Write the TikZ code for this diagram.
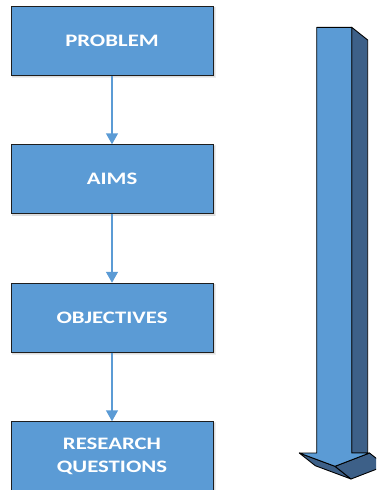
\documentclass[tikz,border=0pt]{standalone}
\usepackage{fontspec}
\newfontfamily\boxfont[FakeStretch=1.3]{Carlito}
\usetikzlibrary{arrows.meta}

\definecolor{boxblue}{HTML}{5B9BD5}
\definecolor{deepblue}{HTML}{3D6088}
\definecolor{edgegray}{HTML}{1E1E1E}

\tikzset{
  stepbox/.style={draw=edgegray, line width=0.9pt, fill=boxblue, text=white,
    minimum width=202pt, minimum height=69pt, inner sep=0pt, align=center,
    font=\boxfont\bfseries\fontsize{17.5}{23.3}\selectfont},
  flow/.style={draw=boxblue, line width=1.5pt,
    -{Triangle[width=12pt,length=11pt]}},
  face/.style={draw=black, line width=0.9pt, line join=round},
  haze/.style={fill=black, opacity=0.07}
}

\begin{document}
\begin{tikzpicture}[x=1pt,y=-1pt]
\useasboundingbox (0,0) rectangle (376,490);
\clip (0,0) rectangle (376,490);

% soft shadows under the step boxes
\foreach \yc in {40.5,179.2,317.7,456.2}{
  \fill[haze] (12,\yc-33.5) rectangle (215,\yc+36.5);
  \fill[haze] (11.5,\yc-34) rectangle (215.5,\yc+37);
}

% the four steps
\node[stepbox] (problem)   at (112,40.8)  {PROBLEM};
\node[stepbox] (aims)      at (112,179.2) {AIMS};
\node[stepbox] (objective) at (112,317.7) {OBJECTIVES};
\node[stepbox] (research)  at (112,456.2) {RESEARCH\\[-0.4pt]QUESTIONS};

% connectors between steps
\draw[flow] (problem.south)   -- (aims.north);
\draw[flow] (aims.south)      -- (objective.north);
\draw[flow] (objective.south) -- (research.north);

% large extruded arrow pointing down
\coordinate (tl) at (316.7,27.3);
\coordinate (tr) at (351.7,27.3);
\coordinate (br) at (351.7,453);
\coordinate (bl) at (316.7,453);
\coordinate (sb) at (367.7,40);
\coordinate (sc) at (367.7,453);
\coordinate (wa) at (299.3,453);
\coordinate (wb) at (369.5,453);
\coordinate (tip) at (335,466.3);
\coordinate (wa2) at (315.3,465.7);
\coordinate (wb2) at (385.5,465.7);
\coordinate (tip2) at (351,479);

% extruded faces
\filldraw[face, fill=deepblue] (tr) -- (sb) -- (sc) -- (br) -- cycle;
\filldraw[face, fill=deepblue] (wa) -- (tip) -- (tip2) -- (wa2) -- cycle;
\filldraw[face, fill=deepblue] (tip) -- (wb) -- (wb2) -- (tip2) -- cycle;
% front face
\filldraw[face, fill=boxblue] (tl) -- (tr) -- (br) -- (wb) -- (tip) -- (wa) -- (bl) -- cycle;
\end{tikzpicture}
\end{document}
